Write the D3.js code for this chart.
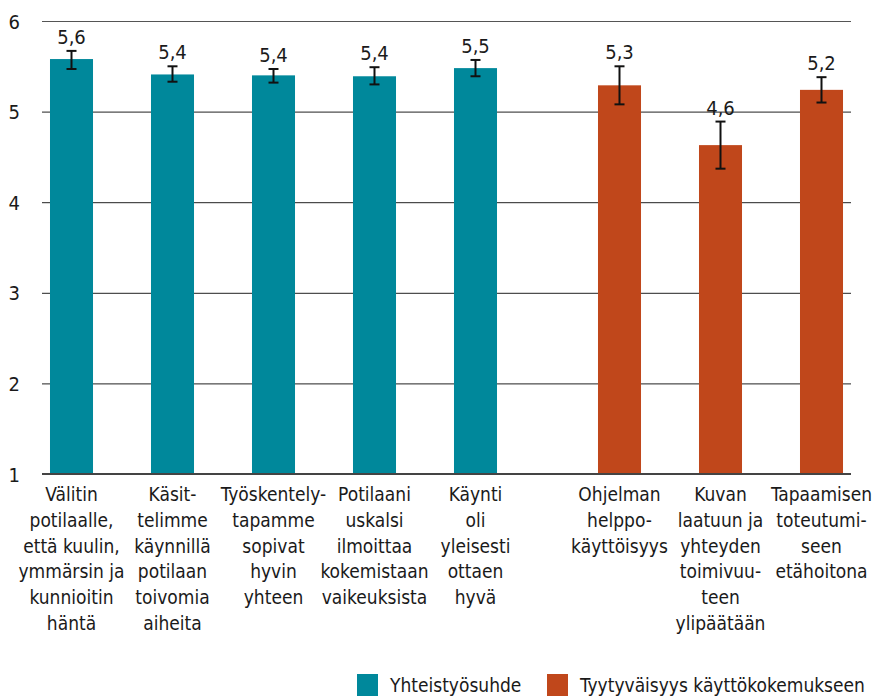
<!DOCTYPE html>
<html><head><meta charset="utf-8">
<script src="https://cdn.jsdelivr.net/npm/d3@7"></script>
<style>
html,body{margin:0;padding:0;background:#fff;}
text{font-family:"DejaVu Sans Condensed","DejaVu Sans",sans-serif;font-stretch:condensed;fill:#1a1a1a;}
</style></head>
<body>
<svg id="chart" width="877" height="696"></svg>
<script>
const categories = ["c1","c2","c3","c4","c5","c6","c7","c8"];
const categoryLines = [
  ["Välitin","potilaalle,","että kuulin,","ymmärsin ja","kunnioitin","häntä"],
  ["Käsit-","telimme","käynnillä","potilaan","toivomia","aiheita"],
  ["Työskentely-","tapamme","sopivat","hyvin","yhteen"],
  ["Potilaani","uskalsi","ilmoittaa","kokemistaan","vaikeuksista"],
  ["Käynti","oli","yleisesti","ottaen","hyvä"],
  ["Ohjelman","helppo-","käyttöisyys"],
  ["Kuvan","laatuun ja","yhteyden","toimivuu-","teen","ylipäätään"],
  ["Tapaamisen","toteutumi-","seen","etähoitona"]
];
const groups = [0,0,0,0,0,1,1,1];
const values = [5.58,5.41,5.40,5.39,5.48,5.29,4.63,5.24];
const errLow = [5.47,5.33,5.32,5.30,5.39,5.08,4.37,5.10];
const errHigh = [5.67,5.50,5.47,5.49,5.57,5.50,4.89,5.38];
const seriesNames = ["Yhteistyösuhde","Tyytyväisyys käyttökokemukseen"];
const seriesColors = ["#00889b","#c0471b"];
const yTicks = [1,2,3,4,5,6];

const svg = d3.select("#chart");
const mLeft = 42, mRight = 851, mTop = 21, mBottom = 474;
const groupGap = 43;

const x = d3.scaleBand().domain(categories).range([21, 829]).paddingInner(0.574).paddingOuter(0.287);
const xPos = i => x(categories[i]) + (groups[i] === 1 ? groupGap : 0);
const y = d3.scaleLinear().domain([1,6]).range([mBottom, mTop]);

// grid + y axis
const yAxis = d3.axisLeft(y).tickValues(yTicks).tickSize(-(mRight-mLeft)).tickPadding(22).tickFormat(d3.format("d"));
const gy = svg.append("g").attr("transform", `translate(${mLeft},0)`).call(yAxis);
gy.attr("font-family", null);
gy.select(".domain").remove();
gy.selectAll(".tick line").attr("stroke", (d) => d === 6 ? "#555" : "#222").attr("stroke-width", 1);
gy.selectAll(".tick text").style("font-size","20px").attr("fill","#1a1a1a").attr("text-anchor","end").attr("dy","0.35em");

// bars
svg.append("g").selectAll("rect").data(values).join("rect")
  .attr("x", (d,i) => xPos(i))
  .attr("width", x.bandwidth())
  .attr("y", d => y(d))
  .attr("height", d => y(1) - y(d))
  .attr("fill", (d,i) => seriesColors[groups[i]]);

// baseline
svg.append("line").attr("x1", mLeft).attr("x2", mRight).attr("y1", y(1)).attr("y2", y(1))
  .attr("stroke","#444").attr("stroke-width",2);

// error bars
const eg = svg.append("g").attr("stroke","#111").attr("stroke-width",2);
values.forEach((v,i) => {
  const cx = xPos(i) + x.bandwidth()/2;
  eg.append("line").attr("x1",cx).attr("x2",cx).attr("y1",y(errLow[i])).attr("y2",y(errHigh[i]));
  eg.append("line").attr("x1",cx-5).attr("x2",cx+5).attr("y1",y(errLow[i])).attr("y2",y(errLow[i]));
  eg.append("line").attr("x1",cx-5).attr("x2",cx+5).attr("y1",y(errHigh[i])).attr("y2",y(errHigh[i]));
});

// value labels
const fmt = d => d3.format(".1f")(d).replace(".", ",");
svg.append("g").selectAll("text").data(values).join("text")
  .attr("x", (d,i) => xPos(i) + x.bandwidth()/2)
  .attr("y", (d,i) => y(errHigh[i]) - 7)
  .attr("text-anchor","middle")
  .style("font-size","20px")
  .text(d => fmt(d));

// category labels
categoryLines.forEach((lines,i) => {
  const cx = xPos(i) + x.bandwidth()/2;
  const t = svg.append("text")
    .attr("x", cx)
    .attr("y", 501)
    .attr("text-anchor","middle")
    .style("font-size","19px");
  lines.forEach((ln,j) => {
    t.append("tspan").attr("x", cx).attr("dy", j===0 ? 0 : 25.8).text(ln);
  });
});

// legend
const legendX = [357, 547];
seriesNames.forEach((n,k) => {
  svg.append("rect").attr("x", legendX[k]).attr("y", 674).attr("width", 21).attr("height", 22).attr("fill", seriesColors[k]);
  svg.append("text").attr("x", legendX[k] + 33).attr("y", 692).style("font-size","19px").text(n);
});
</script>
</body></html>
